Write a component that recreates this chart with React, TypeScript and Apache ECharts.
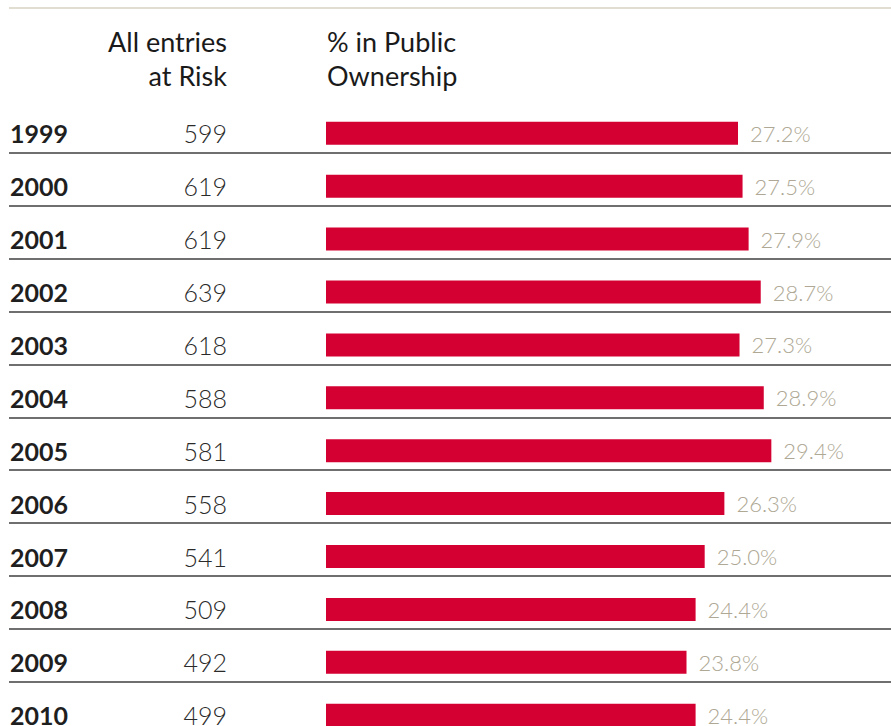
import React, { useEffect, useRef } from "react";
import * as echarts from "echarts";

const years = ["1999", "2000", "2001", "2002", "2003", "2004", "2005", "2006", "2007", "2008", "2009", "2010"];
const entriesAtRisk = [599, 619, 619, 639, 618, 588, 581, 558, 541, 509, 492, 499];
const pctPublic = [27.2, 27.5, 27.9, 28.7, 27.3, 28.9, 29.4, 26.3, 25.0, 24.4, 23.8, 24.4];
const headerLeft = "All entries\nat Risk";
const headerRight = "% in Public\nOwnership";

const FONT = 'Lato, "Open Sans", sans-serif';

export default function App() {
  const ref = useRef<HTMLDivElement>(null);
  useEffect(() => {
    if (!ref.current) return;
    document.documentElement.style.overflow = "hidden";
    document.body.style.overflow = "hidden";
    const chart = echarts.init(ref.current, undefined, { renderer: "svg" });
    const bandTop = 106.85;
    const bandH = 52.9;
    const gridH = bandH * years.length;
    chart.setOption({
      animation: false,
      backgroundColor: "#ffffff",
      grid: [
        { left: 326, right: 0, top: bandTop, height: gridH, containLabel: false },
        { left: 9, right: 0, top: bandTop - 7, height: gridH, containLabel: false },
      ],
      xAxis: [
        { type: "value", gridIndex: 0, min: 0, max: 37.3, show: false },
        { type: "value", gridIndex: 1, min: 0, max: 1, show: false },
      ],
      yAxis: [
        {
          type: "category",
          gridIndex: 0,
          data: years,
          inverse: true,
          axisLine: { show: false },
          axisTick: { show: false },
          splitLine: { show: false },
          axisLabel: {
            margin: 99,
            formatter: (val: string, idx: number) => `{y|${val}}{v|${entriesAtRisk[idx]}}`,
            rich: {
              y: { width: 160, align: "left", fontFamily: FONT, fontSize: 25, fontWeight: "bold", color: "#1f1f1f" },
              v: { width: 57, align: "right", fontFamily: FONT, fontSize: 25, fontWeight: 300, color: "#2a2a2a" },
            },
          },
        },
        {
          type: "category",
          gridIndex: 1,
          data: years,
          inverse: true,
          axisLine: { show: false },
          axisTick: { show: false },
          axisLabel: { show: false },
          splitLine: {
            show: true,
            showMinLine: false,
            showMaxLine: false,
            lineStyle: { color: "#6f6f6f", width: 2 },
          },
        },
      ],
      series: [
        {
          type: "bar",
          xAxisIndex: 0,
          yAxisIndex: 0,
          data: pctPublic,
          barWidth: 23,
          itemStyle: { color: "#d50032" },
          label: {
            show: true,
            position: "right",
            distance: 12,
            formatter: (p: any) => `${Number(p.value).toFixed(1)}%`,
            fontFamily: FONT,
            fontSize: 22,
            fontWeight: 300,
            color: "#aea894",
          },
        },
      ],
      graphic: [
        {
          type: "line",
          shape: { x1: 9, y1: 8, x2: 891, y2: 8 },
          style: { stroke: "#d8d2c2", lineWidth: 1.5 },
        },
        {
          type: "text",
          x: 227,
          y: 24,
          style: {
            text: headerLeft,
            textAlign: "right",
            textVerticalAlign: "top",
            fontFamily: FONT,
            fontSize: 27,
            lineHeight: 34,
            fill: "#1a1a1a",
          },
        },
        {
          type: "text",
          x: 327,
          y: 24,
          style: {
            text: headerRight,
            textAlign: "left",
            textVerticalAlign: "top",
            fontFamily: FONT,
            fontSize: 27,
            lineHeight: 34,
            fill: "#1a1a1a",
          },
        },
      ],
    });
    return () => chart.dispose();
  }, []);
  return <div ref={ref} style={{ position: "fixed", left: 0, top: 0, width: 891, height: 770 }} />;
}
